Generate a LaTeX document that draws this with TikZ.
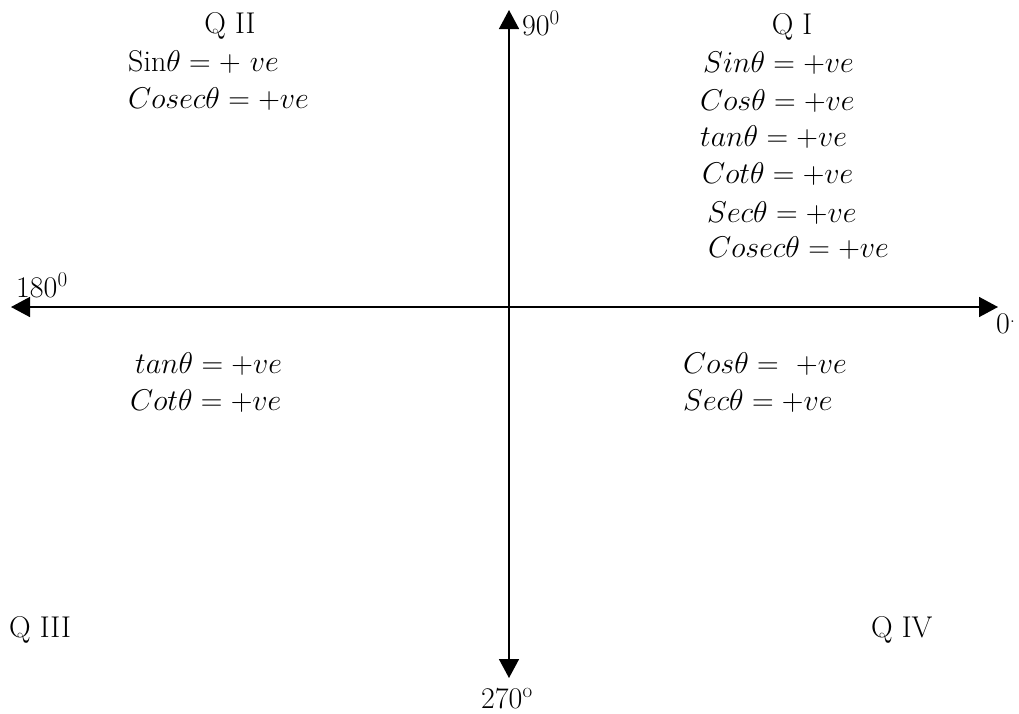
\RequirePackage{fix-cm}
\documentclass[tikz,border=0pt]{standalone}
\usepackage{fontspec}
\usetikzlibrary{arrows.meta}
\begin{document}
\begin{tikzpicture}[x=1pt,y=-1pt,
  axis/.style={line width=1.5pt,{Triangle[length=19pt,width=20pt]}-{Triangle[length=19pt,width=20pt]}},
  lbl/.style={anchor=base west,inner sep=0pt,font=\fontsize{30}{34}\selectfont},
  qlbl/.style={anchor=base,inner sep=0pt,font=\fontsize{30}{34}\selectfont}]
\useasboundingbox (0,0) rectangle (1019,713);
% axes
\coordinate (top) at (509,10);
\coordinate (bot) at (509,678);
\coordinate (lft) at (11,307);
\coordinate (rgt) at (998,307);
\draw[axis] (bot) -- (top);
\draw[axis] (lft) -- (rgt);
% angle labels
\node[lbl] (a90) at (522,35) {90\textsuperscript{0}};
\node[lbl] (a180) at (16,297) {180\textsuperscript{0}};
\node[lbl] (a0) at (996,333) {0\textsuperscript{.}};
\node[lbl] (a270) at (481,708) {270\textsuperscript{o}};
% quadrant names
\node[qlbl] (q1) at (792,34) {Q I};
\node[qlbl] (q2) at (230,33) {Q II};
\node[lbl] (q3) at (9,637) {Q III};
\node[lbl] (q4) at (871,637) {Q IV};
% first quadrant
\node[lbl] (s1) at (703,72) {$Sin\theta = +ve$};
\node[lbl] (c1) at (700,110) {$Cos\theta = +ve$};
\node[lbl] (t1) at (700,146) {$tan\theta = +ve$};
\node[lbl] (ct1) at (702,183) {$Cot\theta = +ve$};
\node[lbl] (se1) at (707,222) {$Sec\theta = +ve$};
\node[lbl] (cs1) at (708,257) {$Cosec\theta = +ve$};
% second quadrant
\node[lbl] (s2) at (128,71) {$\mathrm{Sin}\theta = +\ ve$};
\node[lbl] (cs2) at (128,108) {$Cosec\theta = +ve$};
% third quadrant
\node[lbl] (t3) at (135,373) {$tan\theta = +ve$};
\node[lbl] (ct3) at (130,410) {$Cot\theta = +ve$};
% fourth quadrant
\node[lbl] (c4) at (683,373) {$Cos\theta = \ +ve$};
\node[lbl] (se4) at (683,410) {$Sec\theta = +ve$};
\end{tikzpicture}
\end{document}
